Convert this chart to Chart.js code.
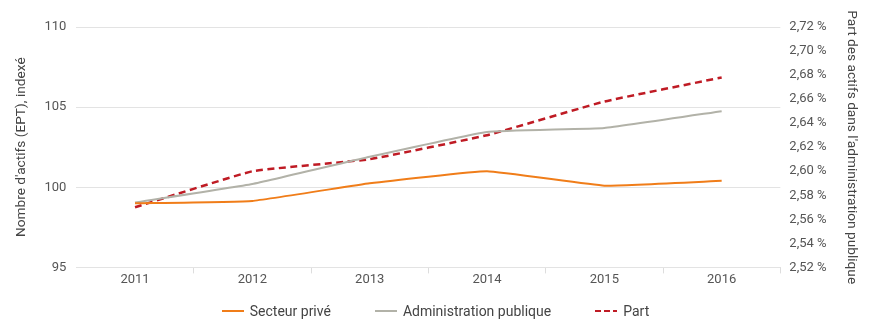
<!DOCTYPE html>
<html lang="fr">
<head>
<meta charset="utf-8">
<title>Actifs indexés</title>
<script src="https://cdn.jsdelivr.net/npm/chart.js@4/dist/chart.umd.min.js"></script>
<style>
  html, body { margin: 0; padding: 0; background: #fff; }
  #wrap { position: relative; width: 871px; height: 320px; }
  #legende {
    position: absolute; left: 0; top: 302px; width: 871px; height: 18px;
    display: flex; justify-content: center; gap: 44px;
    font: 14px Roboto, "DejaVu Sans", sans-serif; color: #444; line-height: 18px;
  }
  #legende span { display: flex; align-items: center; white-space: nowrap; }
  #legende svg { margin-right: 6px; }
</style>
</head>
<body>
<div id="wrap">
  <canvas id="chart" width="871" height="320"></canvas>
  <div id="legende"></div>
</div>
<script>
// Années et séries
const annees = ['2011', '2012', '2013', '2014', '2015', '2016'];
const secteurPrive = [99.0, 99.15, 100.25, 101.0, 100.1, 100.4];
const adminPublique = [99.05, 100.2, 101.9, 103.45, 103.7, 104.75];
const partAdmin = [2.570, 2.600, 2.610, 2.630, 2.658, 2.678];

const police = 'Roboto, "DejaVu Sans", sans-serif';
const gris = '#555';

// légende en HTML, construite depuis les datasets
const legendeHtml = {
    id: 'legendeHtml',
    afterUpdate(chart) {
        const box = document.getElementById('legende');
        box.innerHTML = '';
        chart.data.datasets.forEach((ds) => {
            const item = document.createElement('span');
            const dash = ds.borderDash ? 'stroke-dasharray="6 3"' : '';
            item.innerHTML =
                `<svg width="22" height="4"><line x1="0" y1="2" x2="22" y2="2" stroke="${ds.borderColor}" stroke-width="2" ${dash}/></svg>`;
            item.appendChild(document.createTextNode(ds.label));
            box.appendChild(item);
        });
    }
};

const ctx = document.getElementById('chart').getContext('2d');
new Chart(ctx, {
    type: 'line',
    data: {
        labels: annees,
        datasets: [
            {
                label: 'Secteur privé',
                data: secteurPrive,
                yAxisID: 'y',
                borderColor: '#f07d19',
                borderWidth: 2,
                tension: 0.1,
                pointRadius: 0
            },
            {
                label: 'Administration publique',
                data: adminPublique,
                yAxisID: 'y',
                borderColor: '#b2b2a8',
                borderWidth: 2,
                tension: 0.1,
                pointRadius: 0
            },
            {
                label: 'Part',
                data: partAdmin,
                yAxisID: 'y1',
                borderColor: '#bf1b24',
                borderWidth: 2.5,
                borderDash: [7, 4.5],
                tension: 0.1,
                pointRadius: 0
            }
        ]
    },
    plugins: [legendeHtml],
    options: {
        responsive: false,
        animation: false,
        layout: { padding: { top: 27, right: 0, left: 4, bottom: 33 } },
        plugins: {
            tooltip: { enabled: false },
            legend: { display: false }
        },
        scales: {
            x: {
                offset: true,
                grid: {
                    offset: true,
                    drawOnChartArea: false,
                    tickLength: 6,
                    color: (c) => (c.index === 0 || c.index === annees.length) ? 'rgba(0,0,0,0)' : '#ddd'
                },
                border: { display: false },
                ticks: { color: gris, padding: -1, font: { family: police, size: 13 } }
            },
            y: {
                position: 'left',
                min: 95,
                max: 110,
                ticks: {
                    stepSize: 5,
                    color: gris,
                    padding: 10,
                    font: { family: police, size: 13 }
                },
                grid: { color: '#e3e3e3', drawTicks: false },
                border: { display: false },
                title: {
                    display: true,
                    text: "Nombre d'actifs (EPT), indexé",
                    color: '#444',
                    padding: { top: 9, bottom: 5 },
                    font: { family: police, size: 13.7 }
                }
            },
            y1: {
                position: 'right',
                min: 2.52,
                max: 2.72,
                ticks: {
                    stepSize: 0.02,
                    color: gris,
                    padding: 9,
                    font: { family: police, size: 13 },
                    callback: (v) => v.toFixed(2).replace('.', ',') + ' %'
                },
                grid: { drawOnChartArea: false, drawTicks: false },
                border: { display: false },
                title: {
                    display: true,
                    text: "Part des actifs dans l'administration publique",
                    color: '#444',
                    padding: { top: 11, bottom: 8 },
                    font: { family: police, size: 13.7 }
                }
            }
        }
    }
});
</script>
</body>
</html>
